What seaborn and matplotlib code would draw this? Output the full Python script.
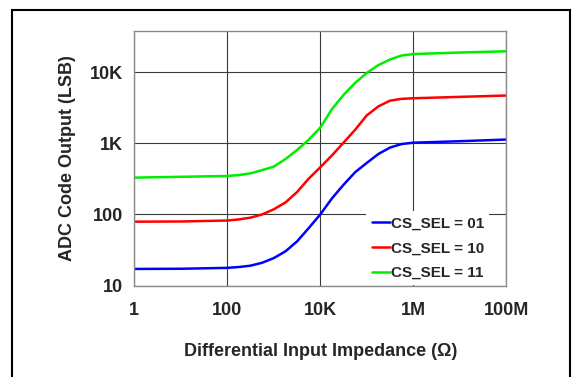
import numpy as np
import pandas as pd
import seaborn as sns
import matplotlib.pyplot as plt
from matplotlib.patches import Rectangle
from matplotlib.ticker import FixedLocator, NullLocator

# impedance points (ohm)
impedance = [1, 10, 100, 178, 316, 562, 1e3, 1.78e3, 3.16e3, 5.62e3, 1e4, 1.78e4, 3.16e4,
             5.62e4, 1e5, 1.78e5, 3.16e5, 5.62e5, 1e6, 1e7, 1e8]
cs01 = [17.1, 17.2, 17.7, 18.2, 19.0, 20.9, 24.3, 30.2, 41.7, 64, 100, 168, 261, 392,
        530, 708, 871, 977, 1020, 1070, 1130]
cs10 = [79, 79.5, 82, 85, 90, 100, 118, 147, 206, 318, 460, 676, 1020, 1550,
        2470, 3310, 3980, 4220, 4300, 4500, 4700]
cs11 = [329, 338, 347, 358, 378, 420, 470, 600, 804, 1120, 1660, 3020, 4790, 7080,
        9770, 12600, 15100, 17200, 18000, 18900, 19700]
series = ["CS_SEL = 01", "CS_SEL = 10", "CS_SEL = 11"]
colors = ["#0000ff", "#ff0000", "#00ee00"]

xticks = [1, 100, 1e4, 1e6, 1e8]
xticklabels = ["1", "100", "10K", "1M", "100M"]
yticks = [10, 100, 1e3, 1e4]
yticklabels = ["10", "100", "1K", "10K"]

df = pd.concat([
    pd.DataFrame({"imp": impedance, "adc": vals, "sel": name})
    for name, vals in zip(series, [cs01, cs10, cs11])
])

sns.set_style("white")
plt.rcParams["font.family"] = ["Liberation Sans", "DejaVu Sans"]
plt.rcParams["font.weight"] = "bold"

fig = plt.figure(figsize=(5.72, 3.77), dpi=100)
ax = fig.add_axes([0.2348, 0.2427, 0.6503, 0.6751])

sns.lineplot(data=df, x="imp", y="adc", hue="sel", palette=dict(zip(series, colors)),
             linewidth=1.8, ax=ax, legend=True)

ax.set_xscale("log")
ax.set_yscale("log")
ax.set_xlim(1, 1e8)
ax.set_ylim(10, 38000)
ax.xaxis.set_major_locator(FixedLocator(xticks))
ax.xaxis.set_minor_locator(NullLocator())
ax.yaxis.set_major_locator(FixedLocator(yticks))
ax.yaxis.set_minor_locator(NullLocator())
ax.set_xticklabels(xticklabels, fontsize=13, fontweight="bold")
ax.set_yticklabels(yticklabels, fontsize=13, fontweight="bold")
ax.tick_params(axis="y", length=0, pad=8)
ax.tick_params(axis="x", length=0, pad=12)
ax.grid(True, color="#3a3a3a", linewidth=0.8)
ax.set_axisbelow(True)
for s in ax.spines.values():
    s.set_color("#8a8a8a")
    s.set_linewidth(1.0)

ax.set_xlabel("Differential Input Impedance (\u03a9)", fontsize=13, fontweight="bold", labelpad=17)
ax.set_ylabel("ADC Code Output (LSB)", fontsize=13, fontweight="bold", labelpad=10)

h, l = ax.get_legend_handles_labels()
leg = ax.legend(h, l, loc="lower right", bbox_to_anchor=(0.975, -0.03), frameon=True,
                fancybox=False, edgecolor="none", facecolor="white", framealpha=1,
                handlelength=1.2, handletextpad=0.05, labelspacing=0.71,
                borderpad=0.35, prop={"size": 11, "weight": "bold"})
leg.set_zorder(2.4)  # keep the spines on top of the white legend box

# outer border of the figure panel
fig.patches.append(Rectangle((12 / 572, -0.05), 558 / 572, 1 - 10 / 377 + 0.05,
                             transform=fig.transFigure, fill=False,
                             edgecolor="black", linewidth=1.5))

fig.savefig("out.png", dpi=100)
